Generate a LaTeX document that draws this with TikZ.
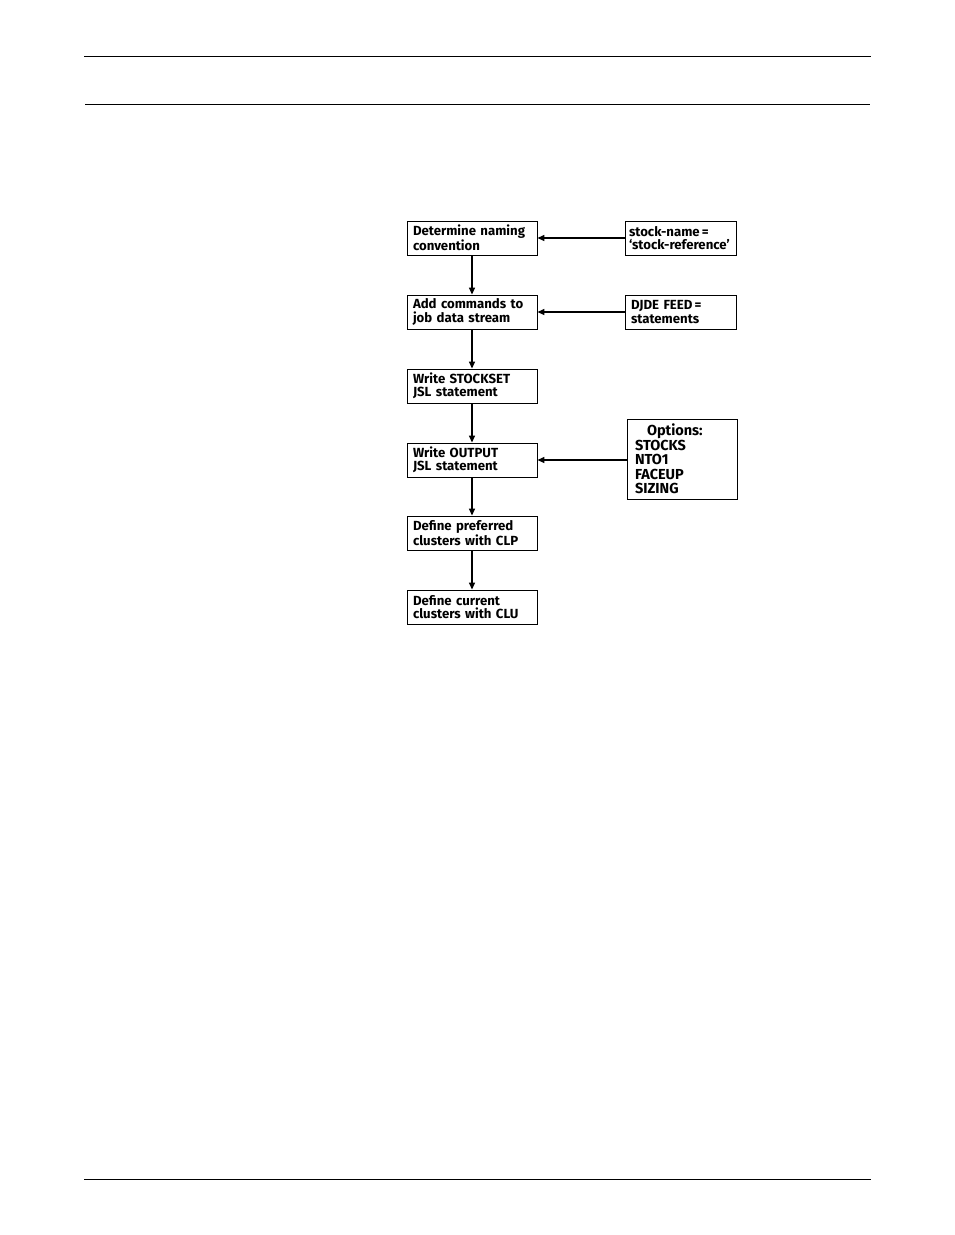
\documentclass[tikz,border=0pt]{standalone}
\usepackage{fontspec}
\setsansfont{Fira Sans}
\usetikzlibrary{arrows.meta}
\setlength{\lineskiplimit}{-20pt}
\tikzset{
	stepbox/.style={draw, line width=0.9pt, text width=118pt, inner xsep=6pt, inner ysep=2pt, minimum height=34pt, align=left, font=\sffamily\bfseries\fontsize{13.2}{13.5}\selectfont},
	sidebox/.style={stepbox, text width=99pt},
	flow/.style={line width=1.5pt, -{Triangle[length=7pt,width=6pt]}},
	rule/.style={line width=1pt}
}
\begin{document}
\begin{tikzpicture}[x=1pt, y=-1pt]
			%%%%% START %%%%%
			\useasboundingbox (0, 0) rectangle (954, 1235);
			
			\draw[rule] (84, 56) -- (871, 56);
			\draw[rule] (85, 104) -- (870, 104);
			\draw[rule] (84, 1179) -- (871, 1179);
			
			\node[stepbox] (naming) at (472, 238) {Determine naming\\convention};
			\node[stepbox] (commands) at (472, 312) {Add commands to\\job data stream};
			\node[stepbox] (stockset) at (472, 386) {Write STOCKSET\\JSL statement};
			\node[stepbox] (output) at (472, 460) {Write OUTPUT\\JSL statement};
			\node[stepbox] (preferred) at (472, 533) {Define preferred\\clusters with CLP};
			\node[stepbox] (current) at (472, 607) {Define current\\clusters with CLU};
			
			\node[sidebox, inner xsep=4pt, text width=103pt] (stockname) at (680.5, 238) {stock-name\,=\\\mbox{`stock-reference'}};
			\node[sidebox] (djde) at (680.5, 312) {DJDE FEED\,=\\statements};
			\node[sidebox, text width=94pt, inner xsep=8pt, minimum height=80pt, font=\sffamily\bfseries\fontsize{14.5}{14.5}\selectfont] (options) at (682, 459) {\hspace*{12pt}Options:\\STOCKS\\NTO1\\FACEUP\\SIZING};
			
			\draw[flow] (naming) -- (commands);
			\draw[flow] (commands) -- (stockset);
			\draw[flow] (stockset) -- (output);
			\draw[flow] (output) -- (preferred);
			\draw[flow] (preferred) -- (current);
			
			\draw[flow] (stockname) -- (naming);
			\draw[flow] (djde) -- (commands);
			\draw[flow] (options.west |- output) -- (output);
			
			%%%%% END %%%%%
		\end{tikzpicture}
\end{document}
